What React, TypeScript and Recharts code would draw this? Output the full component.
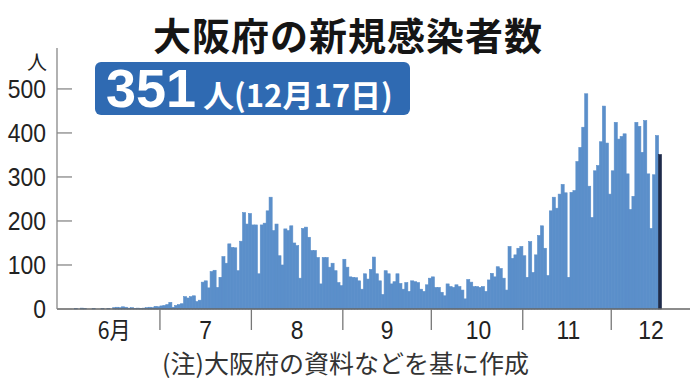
import React from 'react';
import { BarChart, Bar, XAxis, YAxis, Cell } from 'recharts';

// 日ごとの新規感染者数 (6/1 = 0)
const june = [0, 1, 0, 2, 1, 0, 0, 1, 0, 0, 1, 0, 1, 0, 3, 4, 3, 5, 4, 2, 3, 1, 2, 1, 2, 3, 4, 3, 6, 5];
const july = [7, 8, 10, 15, 4, 8, 10, 12, 28, 25, 28, 30, 17, 20, 61, 64, 48, 85, 88, 49, 72, 119, 104, 148, 140, 139, 87, 154, 219, 193, 217];
const august = [191, 191, 80, 191, 195, 223, 254, 178, 193, 121, 100, 182, 178, 189, 150, 144, 70, 183, 186, 163, 133, 133, 117, 57, 117, 117, 95, 104, 87, 60, 53];
const september = [113, 95, 73, 72, 71, 64, 45, 80, 68, 90, 118, 80, 64, 33, 87, 80, 57, 62, 80, 58, 45, 60, 40, 64, 62, 60, 45, 40, 55, 70];
const october = [73, 49, 49, 38, 30, 57, 51, 49, 55, 51, 43, 23, 67, 61, 51, 51, 49, 51, 40, 66, 81, 73, 96, 92, 70, 43, 142, 115, 123, 138, 142];
const november = [121, 72, 153, 83, 123, 167, 189, 138, 76, 223, 254, 229, 261, 283, 264, 72, 265, 269, 335, 367, 413, 489, 279, 208, 314, 326, 380, 461, 377, 261];
const december = [314, 424, 386, 392, 398, 307, 226, 256, 424, 415, 356, 428, 307, 183, 305, 394, 351];

const yTicks = [0, 100, 200, 300, 400, 500];
const monthStarts = [29.5, 60.5, 91.5, 121.5, 152.5, 182.5];
const monthLabels = ['6月', '7', '8', '9', '10', '11', '12'];
const labelDays = [14, 45, 76, 106.5, 137.5, 168, 196];

const values = [...june, ...july, ...august, ...september, ...october, ...november, ...december];
const data = values.map((v, i) => ({ day: i, cases: v }));

const numFont = "'Liberation Sans', Arial, sans-serif";
const jpFont = "'Noto Sans CJK JP', 'Noto Sans', sans-serif";

const YTick = (props: any) => {
  const { x, y, payload } = props;
  return (
    <g>
      <line x1={x} x2={x + 15} y1={y} y2={y} stroke="#888" strokeWidth={1.3} />
      <text
        transform={`translate(${x - 11},${y + 9}) scale(0.88,1)`}
        textAnchor="end"
        fontFamily={numFont}
        fontSize={26}
        fill="#222"
      >
        {payload.value}
      </text>
    </g>
  );
};

const XTick = (props: any) => {
  const { x, y, payload } = props;
  const startIdx = monthStarts.indexOf(payload.value);
  if (startIdx >= 0) {
    return <line x1={x} x2={x} y1={y} y2={y + 21} stroke="#777" strokeWidth={1.3} />;
  }
  const li = labelDays.indexOf(payload.value);
  return (
    <text
      transform={`translate(${x},${y + 30}) scale(0.88,1)`}
      textAnchor="middle"
      fontFamily={li === 0 ? jpFont : numFont}
      fontSize={li === 0 ? 24 : 26}
      fill="#222"
    >
      {monthLabels[li]}
    </text>
  );
};

// 隙間なく並べるため中心から1日分の幅で描く
const DayBar = (props: any) => {
  const { x, y, width, height, fill } = props;
  if (!height || height <= 0) return null;
  const cx = x + width / 2;
  return (
    <rect
      x={cx - 1.5}
      y={y}
      width={3.1}
      height={height}
      fill={fill}
      stroke={fill}
      strokeWidth={0.6}
    />
  );
};

const App: React.FC = () => {
  const lastIdx = data.length - 1;
  return (
    <div style={{ position: 'absolute', left: 0, top: 0, width: 696, height: 391, background: '#fff', overflow: 'hidden' }}>
      <div
        style={{
          position: 'absolute', left: 0, top: 14, width: 696, textAlign: 'center',
          fontFamily: jpFont, fontWeight: 700, fontSize: 38, lineHeight: '40px', color: '#151515', letterSpacing: 1,
        }}
      >
        大阪府の新規感染者数
      </div>
      <div
        style={{
          position: 'absolute', left: 95, top: 62, width: 315, height: 53, background: '#2f6ab2',
          borderRadius: 6, color: '#fff', display: 'flex', alignItems: 'baseline', paddingLeft: 11, boxSizing: 'border-box',
          lineHeight: '53px',
        }}
      >
        <span style={{ fontFamily: numFont, fontWeight: 700, fontSize: 54 }}>351</span>
        <span style={{ fontFamily: jpFont, fontWeight: 700, fontSize: 31, marginLeft: 7 }}>人(12月17日)</span>
      </div>
      <div style={{ position: 'absolute', left: 27, top: 51, fontFamily: jpFont, fontSize: 20, lineHeight: '22px', color: '#222' }}>
        人
      </div>
      <div style={{ position: 'absolute', left: 162, top: 347, fontFamily: jpFont, fontSize: 25, lineHeight: '30px', color: '#333' }}>
        (注)大阪府の資料などを基に作成
      </div>
      <div style={{ position: 'absolute', left: 0, top: 0 }}>
        <BarChart width={696} height={391} data={data} margin={{ top: 48, right: 6, bottom: 52, left: 0 }} barCategoryGap={0} barGap={0}>
          <XAxis
            dataKey="day"
            type="number"
            domain={[-5.4, 209.2]}
            allowDataOverflow
            ticks={[...monthStarts, ...labelDays]}
            interval={0}
            tick={<XTick />}
            tickLine={false}
            tickSize={0}
            tickMargin={0}
            height={30}
            axisLine={{ stroke: '#666', strokeWidth: 1.3 }}
          />
          <YAxis
            type="number"
            domain={[0, 593]}
            ticks={yTicks}
            interval={0}
            width={57}
            tick={<YTick />}
            tickLine={false}
            tickSize={0}
            tickMargin={0}
            axisLine={{ stroke: '#888', strokeWidth: 1.3 }}
          />
          <Bar dataKey="cases" fill="#5b8fca" shape={<DayBar />} isAnimationActive={false}>
            {data.map((d, i) => (
              <Cell key={d.day} fill={i === lastIdx ? '#1f2b4a' : '#5b8fca'} />
            ))}
          </Bar>
        </BarChart>
      </div>
    </div>
  );
};

export default App;
